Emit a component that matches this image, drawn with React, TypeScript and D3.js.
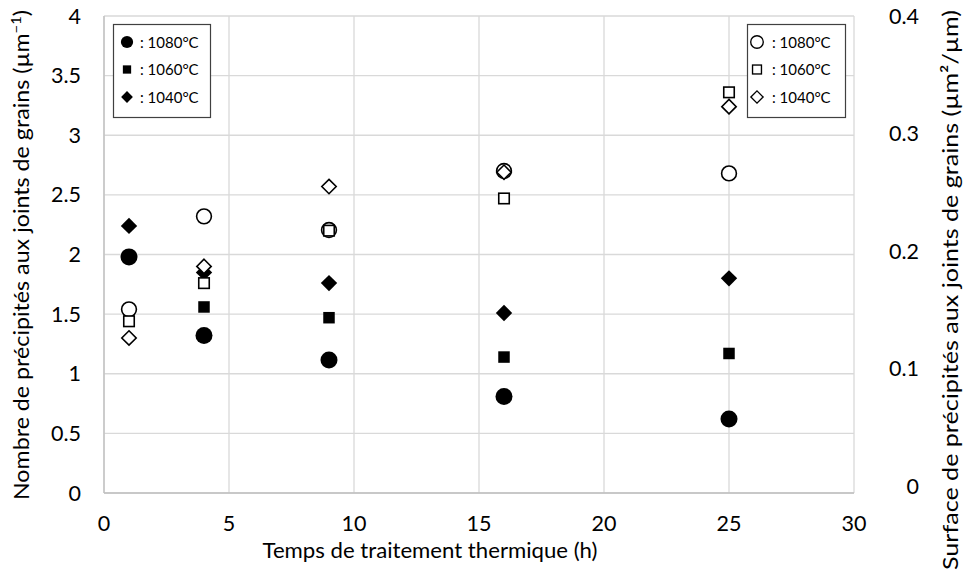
import React from "react";
import * as d3 from "d3";

const times = [1, 4, 9, 16, 25];
const count1080 = [1.98, 1.32, 1.115, 0.81, 0.62];
const count1060: (number | null)[] = [null, 1.56, 1.47, 1.14, 1.17];
const count1040 = [2.24, 1.85, 1.76, 1.51, 1.8];
const surf1080 = [0.154, 0.232, 0.2205, 0.27, 0.268];
const surf1060 = [0.144, 0.176, 0.22, 0.247, 0.336];
const surf1040 = [0.13, 0.19, 0.257, 0.269, 0.324];

const xTicks = [0, 5, 10, 15, 20, 25, 30];
const yLeftTicks = [0, 0.5, 1, 1.5, 2, 2.5, 3, 3.5, 4];
const yRightTicks = [0, 0.1, 0.2, 0.3, 0.4];
const legendLabels = [": 1080°C", ": 1060°C", ": 1040°C"];

const W = 964;
const H = 570;
const L = 104, R = 854, T = 16, B = 493;
const FONT = "Lato, 'Open Sans', sans-serif";

type Shape = "circle" | "square" | "diamond";

function Marker({ shape, x, y, filled }: { shape: Shape; x: number; y: number; filled: boolean }) {
  const fill = filled ? "#000" : "#fff";
  const stroke = "#000";
  const sw = filled ? 0 : 1.6;
  if (shape === "circle") {
    const r = filled ? 8.5 : 7.4;
    return <circle cx={x} cy={y} r={r} fill={fill} stroke={stroke} strokeWidth={sw} />;
  }
  if (shape === "square") {
    const s = filled ? 11.5 : 10.5;
    return <rect x={x - s / 2} y={y - s / 2} width={s} height={s} fill={fill} stroke={stroke} strokeWidth={sw} />;
  }
  const d = filled ? 8.2 : 7.2;
  return (
    <path d={`M${x},${y - d}L${x + d},${y}L${x},${y + d}L${x - d},${y}Z`} fill={fill} stroke={stroke} strokeWidth={sw} />
  );
}

export default function App() {
  const x = d3.scaleLinear().domain([0, 30]).range([L, R]);
  const yL = d3.scaleLinear().domain([0, 4]).range([B, T]);
  const yR = d3.scaleLinear().domain([0, 0.4]).range([B, T]);
  const yRLabel = d3.scaleLinear().domain([0, 0.4]).range([486, 16]);

  const filledSeries: { vals: (number | null)[]; shape: Shape }[] = [
    { vals: count1080, shape: "circle" },
    { vals: count1060, shape: "square" },
    { vals: count1040, shape: "diamond" },
  ];
  const openSeries: { vals: number[]; shape: Shape }[] = [
    { vals: surf1080, shape: "circle" },
    { vals: surf1060, shape: "square" },
    { vals: surf1040, shape: "diamond" },
  ];
  const shapes: Shape[] = ["circle", "square", "diamond"];
  const FS = 21.5;
  const TS = 22;

  return (
    <div style={{ position: "absolute", left: 0, top: 0 }}>
      <svg width={W} height={H} style={{ display: "block", background: "#fff" }} fontFamily={FONT}>
        <rect width={W} height={H} fill="#fff" />
        {/* grid */}
        {xTicks.map((t) => (
          <line key={"gx" + t} x1={x(t)} x2={x(t)} y1={T} y2={B} stroke="#d9d9d9" strokeWidth={1.3} />
        ))}
        {yLeftTicks.map((t) => (
          <line key={"gy" + t} x1={L} x2={R} y1={yL(t)} y2={yL(t)} stroke="#d9d9d9" strokeWidth={1.3} />
        ))}
        <line x1={L} x2={L} y1={T} y2={B} stroke="#bfbfbf" strokeWidth={1.3} />
        <line x1={L} x2={R} y1={B} y2={B} stroke="#bfbfbf" strokeWidth={1.3} />

        {/* tick labels */}
        {xTicks.map((t) => (
          <text key={"xl" + t} x={x(t)} y={531} textAnchor="middle" fontSize={FS} fill="#000">
            {t}
          </text>
        ))}
        {yLeftTicks.map((t) => (
          <text key={"yl" + t} x={81} y={yL(t) + 7.5} textAnchor="end" fontSize={FS} fill="#000">
            {t}
          </text>
        ))}
        {yRightTicks.map((t) => (
          <text key={"yr" + t} x={919} y={yRLabel(t) + 7.5} textAnchor="end" fontSize={FS} fill="#000">
            {t}
          </text>
        ))}

        {/* axis titles */}
        <text x={430} y={558} textAnchor="middle" fontSize={TS} fill="#000" textLength={335} lengthAdjust="spacingAndGlyphs">
          Temps de traitement thermique (h)
        </text>
        <text transform="translate(29,255) rotate(-90)" textAnchor="middle" fontSize={TS} fill="#000" textLength={490} lengthAdjust="spacingAndGlyphs">
          Nombre de précipités aux joints de grains (µm
          <tspan dy={-8} fontSize={14}>−1</tspan>
          <tspan dy={8}>)</tspan>
        </text>
        <text transform="translate(958,10) rotate(-90)" textAnchor="end" fontSize={TS} fill="#000" textLength={560} lengthAdjust="spacingAndGlyphs">
          Surface de précipités aux joints de grains (µm²/µm)
        </text>

        {/* data: filled (left axis) */}
        {filledSeries.map((s, si) =>
          s.vals.map((v, i) =>
            v == null ? null : <Marker key={`f${si}-${i}`} shape={s.shape} x={x(times[i])} y={yL(v)} filled={true} />
          )
        )}
        {/* data: open (right axis) */}
        {openSeries.map((s, si) =>
          s.vals.map((v, i) => <Marker key={`o${si}-${i}`} shape={s.shape} x={x(times[i])} y={yR(v)} filled={false} />)
        )}

        {/* legends */}
        <rect x={113.5} y={24.5} width={97} height={93} fill="#fff" stroke="#404040" strokeWidth={1.2} />
        {legendLabels.map((lab, i) => (
          <g key={"ll" + i}>
            <g transform={`translate(${127},${42 + i * 27.5}) scale(0.72) translate(${-127},${-(42 + i * 27.5)})`}>
              <Marker shape={shapes[i]} x={127} y={42 + i * 27.5} filled={true} />
            </g>
            <text x={140} y={42 + i * 27.5 + 5.5} fontSize={15} fill="#000">
              {lab}
            </text>
          </g>
        ))}
        <rect x={747.5} y={24.5} width={98} height={93} fill="#fff" stroke="#404040" strokeWidth={1.2} />
        {legendLabels.map((lab, i) => (
          <g key={"lr" + i}>
            <g transform={`translate(${757},${42 + i * 27.5}) scale(0.85) translate(${-757},${-(42 + i * 27.5)})`}>
              <Marker shape={shapes[i]} x={757} y={42 + i * 27.5} filled={false} />
            </g>
            <text x={772} y={42 + i * 27.5 + 5.5} fontSize={15} fill="#000">
              {lab}
            </text>
          </g>
        ))}
      </svg>
    </div>
  );
}
